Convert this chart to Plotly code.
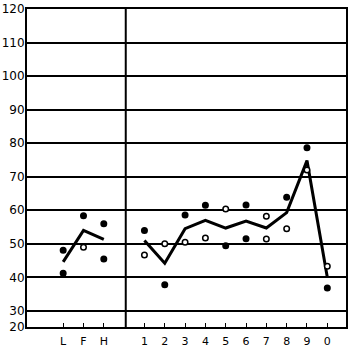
import plotly.graph_objects as go

# ---- data ----
left_labels = ["L", "F", "H"]
right_labels = ["1", "2", "3", "4", "5", "6", "7", "8", "9", "0"]

mean_left = [44.6, 54.0, 51.3]
mean_right = [51.0, 44.2, 54.5, 57.0, 54.7, 56.8, 54.7, 59.3, 74.8, 40.0]

upper_left = [48.1, 58.4, 56.0]
upper_right = [54.0, 50.0, 58.6, 61.5, 60.4, 61.6, 58.2, 63.9, 78.6, 43.3]

lower_left = [41.2, 49.0, 45.5]
lower_right = [46.7, 37.8, 50.5, 51.7, 49.4, 51.5, 51.4, 54.5, 72.0, 36.8]

# which dots are drawn hollow (left group then right group)
hollow_upper = [False, False, False, False, True, False, False, True, False, True, False, False, True]
hollow_lower = [False, True, False, True, False, True, True, False, False, True, True, True, False]

y_tick_values = [30, 40, 50, 60, 70, 80, 90, 100, 110, 120]
y_tick_labels = ["30", "40", "50", "60", "70", "80", "90", "100", "110", "120"]
y_bottom_label = "20"

# ---- layout helpers ----
x_left = [i + 1 for i in range(len(left_labels))]
x_right = [i + 5 for i in range(len(right_labels))]
Y_BOTTOM = 25.2  # compressed (broken) bottom of the scale, labelled "20"

fig = go.Figure()

fig.add_trace(go.Scatter(x=x_left, y=mean_left, mode="lines",
                         line=dict(color="black", width=3), hoverinfo="skip"))
fig.add_trace(go.Scatter(x=x_right, y=mean_right, mode="lines",
                         line=dict(color="black", width=3), hoverinfo="skip"))

xs = x_left + x_right
ups = upper_left + upper_right
lows = lower_left + lower_right
pts_x = xs + xs
pts_y = ups + lows
hollow = hollow_upper + hollow_lower
fig.add_trace(go.Scatter(
    x=pts_x, y=pts_y, mode="markers",
    marker=dict(size=5.5, symbol="circle",
                color=["white" if h else "black" for h in hollow],
                line=dict(color="black", width=1.5)),
    hoverinfo="skip"))

fig.add_shape(type="line", xref="x", yref="paper", x0=4.08, x1=4.08, y0=0, y1=1,
              line=dict(color="black", width=2))

font = dict(family="DejaVu Sans", size=11, color="black")
yfont = dict(family="DejaVu Sans", size=12, color="black")
fig.update_layout(
    width=350, height=350,
    margin=dict(l=21, r=3, t=2, b=15),
    paper_bgcolor="white", plot_bgcolor="white",
    showlegend=False,
    font=font,
    xaxis=dict(range=[-0.78, 14.92], tickvals=xs, ticktext=left_labels + right_labels,
               ticks="inside", ticklen=4, tickwidth=1, tickcolor="black",
               showgrid=False, zeroline=False, showline=True, linecolor="black",
               linewidth=1.5, mirror=True, tickfont=font, ticklabelstandoff=3),
    yaxis=dict(range=[Y_BOTTOM, 120], tickvals=[Y_BOTTOM] + y_tick_values,
               ticktext=[y_bottom_label] + y_tick_labels,
               ticks="", showgrid=True, gridcolor="black", gridwidth=1.5,
               zeroline=False, showline=True, linecolor="black", linewidth=2,
               mirror=True, tickfont=yfont, ticklabeloverflow="allow",
               ticklabelstandoff=-2),
)

fig.write_html("out.html")
